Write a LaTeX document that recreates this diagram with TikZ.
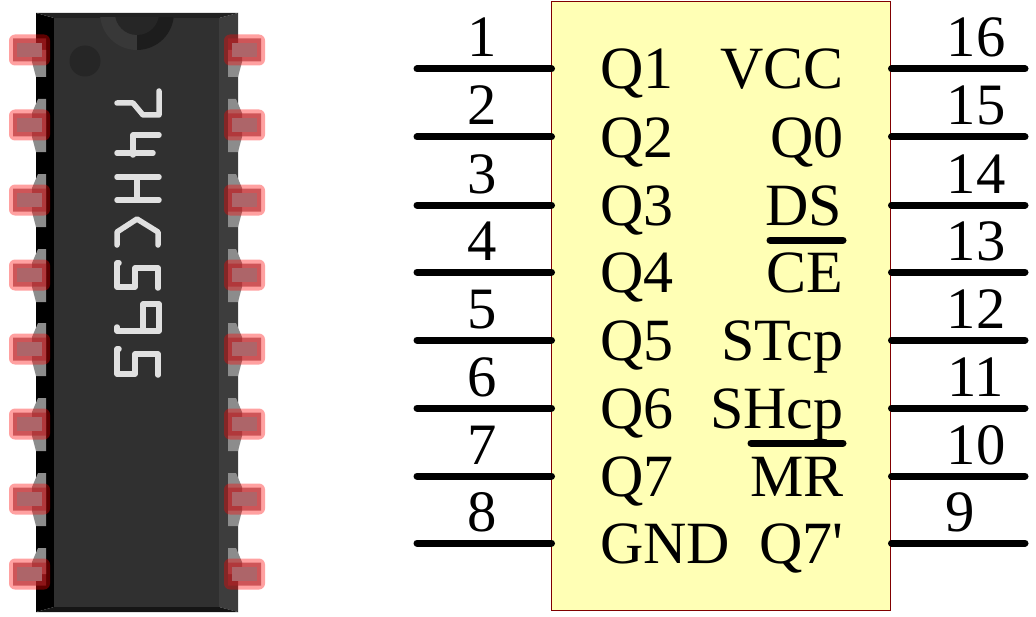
\documentclass[tikz,border=0pt]{standalone}
\usepackage{fontspec}
\setmainfont{Liberation Serif}
\newfontfamily\rawserif{Liberation Serif}[Ligatures=ResetAll]
\definecolor{bodyc}{HTML}{303030}
\definecolor{leftb}{HTML}{000000}
\definecolor{rightb}{HTML}{3D3D3D}
\definecolor{topb}{HTML}{222222}
\definecolor{botb}{HTML}{151515}
\definecolor{legc}{HTML}{8C8C8C}
\definecolor{bandc}{RGB}{175,35,40}
\definecolor{padc}{HTML}{AD6569}
\definecolor{inkc}{HTML}{E0E0E0}
\definecolor{boxc}{HTML}{FFFFB5}
\definecolor{edgec}{HTML}{800000}
\definecolor{ringl}{RGB}{56,56,56}
\definecolor{ringd}{RGB}{29,29,29}
\definecolor{ringi}{RGB}{38,38,38}
\tikzset{
  halo/.style={fill=red,fill opacity=.37,rounded corners=4.5},
  band/.style={fill=bandc,fill opacity=.6},
  padin/.style={fill=padc},
  leg/.style={fill=legc},
  ink/.style={draw=inkc,line width=5.5*.75pt,line cap=round,line join=round},
  pinline/.style={draw=black,line width=7*.75pt,line cap=round},
  overbar/.style={draw=black,line width=7*.75pt,line cap=round},
  chiptext/.style={inner sep=0pt,outer sep=0pt,font=\fontsize{45}{45}\selectfont},
  chipnum/.style={inner sep=0pt,outer sep=0pt,font=\fontsize{44}{44}\selectfont},
  icbox/.style={draw=edgec,line width=.75pt,fill=boxc,inner sep=0pt,minimum width=339*.75pt,minimum height=608*.75pt},
}
\begin{document}
\begin{tikzpicture}[x=.75pt,y=-.75pt]
\useasboundingbox (0,0) rectangle (1036,617);
% package bevels
\fill[leftb] (36,13) -- (54,18) -- (54,607) -- (36,612) -- cycle;
\fill[rightb] (238,13) -- (219,18) -- (219,607) -- (238,612) -- cycle;
% legs: upper half (none on the first pin), lower half (none on the last)
\foreach \yy in {125,200,275,349,424,499,574}{
  \fill[leg] (46,\yy-26) -- (38,\yy-26) -- (32,\yy-12) -- (32,\yy) -- (46,\yy) -- cycle;
  \fill[leg] (228,\yy-26) -- (236,\yy-26) -- (242,\yy-12) -- (242,\yy) -- (228,\yy) -- cycle;
}
\foreach \yy in {50,125,200,275,349,424,499}{
  \fill[leg] (46,\yy+27) -- (36,\yy+27) -- (32,\yy+12) -- (32,\yy) -- (46,\yy) -- cycle;
  \fill[leg] (228,\yy+27) -- (238,\yy+27) -- (242,\yy+12) -- (242,\yy) -- (228,\yy) -- cycle;
}
\fill[topb] (36,13) -- (238,13) -- (219,18) -- (54,18) -- cycle;
\fill[botb] (36,612) -- (238,612) -- (219,607) -- (54,607) -- cycle;
\fill[bodyc] (54,18) rectangle (219,607);
% notch and dot
\begin{scope}
  \clip (54,18) rectangle (219,607);
  \fill[ringl] (137,13) circle[radius=37];
  \begin{scope}
    \clip (137,-30) rectangle (180,60);
    \fill[ringd] (137,13) circle[radius=37];
  \end{scope}
  \fill[ringi] (137,13) circle[radius=22];
\end{scope}
\fill[ringi] (85,61) circle[radius=15.5];
% printed marking
\draw[ink] (159,91) -- (159,115) -- (143,115) -- (133,103) -- (117,103);
\draw[ink] (159,135) -- (133,135) -- (133,155);
\draw[ink] (117,153) -- (153,153);
\draw[ink] (117,177) -- (159,177);
\draw[ink] (117,200) -- (159,200);
\draw[ink] (137,177) -- (137,200);
\draw[ink] (158,245) -- (158,232) -- (137,219) -- (117,232) -- (117,245);
\draw[ink] (158,288) -- (158,268) -- (135,268) -- (135,287) -- (117,287) -- (117,263) -- (119,263);
\draw[ink] (143,331) -- (143,304) -- (159,304) -- (159,331) -- (117,331) -- (117,327);
\draw[ink] (158,375) -- (158,354) -- (135,354) -- (135,374) -- (117,374) -- (117,349) -- (119,349);
% pads
\foreach \yy in {50,125,200,275,349,424,499,574}{
  \fill[halo] (9,\yy-15.5) rectangle (50,\yy+15.5);
  \fill[band,even odd rule] (13,\yy-11.5) rectangle (46,\yy+11.5) (17,\yy-7) rectangle (42,\yy+7);
  \fill[padin] (17,\yy-7) rectangle (42,\yy+7);
  \fill[halo] (224,\yy-15.5) rectangle (265,\yy+15.5);
  \fill[band,even odd rule] (228,\yy-11.5) rectangle (261,\yy+11.5) (232,\yy-7) rectangle (257,\yy+7);
  \fill[padin] (232,\yy-7) rectangle (257,\yy+7);
}
% schematic
\node[icbox] (ic) at (720.5,306) {};
\foreach \n/\yy/\lab in {1/69/Q1,2/137/Q2,3/205/Q3,4/272/Q4,5/340/Q5,6/408/Q6,7/476/Q7,8/543/GND}{
  \coordinate (lp\n) at (417,\yy);
  \coordinate (le\n) at ([xshift=.75pt]ic.west |- lp\n);
  \draw[pinline] (lp\n) -- (le\n);
  \node[chipnum,anchor=base] (ln\n) at (482,\yy-12) {\n};
  \node[chiptext,anchor=base west] (ll\n) at (600,\yy+20) {\lab};
}
\foreach \n/\yy/\xx in {16/69/976,15/137/976,14/205/976,13/272/976,12/340/976,11/408/976,10/476/976,9/543/960}{
  \coordinate (rp\n) at (1025,\yy);
  \coordinate (re\n) at ([xshift=.75pt]ic.east |- rp\n);
  \draw[pinline] (re\n) -- (rp\n);
  \node[chipnum,anchor=base] (rn\n) at (\xx,\yy-12) {\n};
}
\node[chiptext,anchor=base east] (r16) at (843.5,89) {VCC};
\node[chiptext,anchor=base east] (r15) at (843.5,157) {Q0};
\node[chiptext,anchor=base east] (r14) at (842,225) {DS};
\node[chiptext,anchor=base east] (r13) at (843.5,292) {CE};
\node[chiptext,anchor=base east] (r12) at (843.5,360) {STcp};
\node[chiptext,anchor=base east] (r11) at (843.5,428) {SHcp};
\node[chiptext,anchor=base east] (r10) at (843.5,496) {MR};
\node[chiptext,anchor=base east] (r9) at (843.5,563) {\rawserif Q7'};
\coordinate (a1) at (770,240);
\coordinate (a2) at (843,240);
\coordinate (b1) at (751,443);
\coordinate (b2) at (843,443);
\draw[overbar] (a1) -- (a2);
\draw[overbar] (b1) -- (b2);
\end{tikzpicture}
\end{document}
